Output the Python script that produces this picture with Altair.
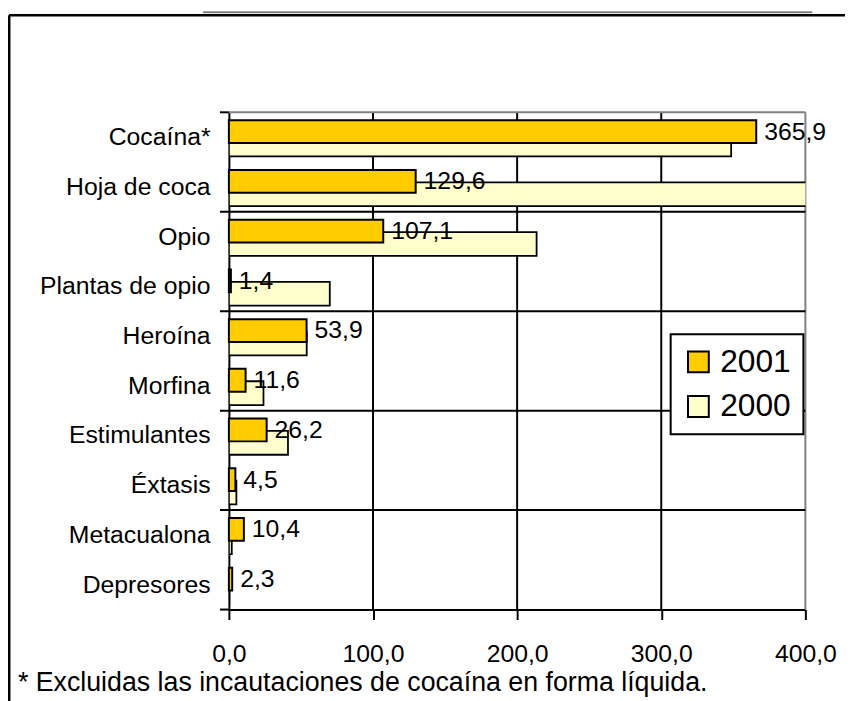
import altair as alt
import pandas as pd

categories = ["Cocaína*", "Hoja de coca", "Opio", "Plantas de opio", "Heroína",
              "Morfina", "Estimulantes", "Éxtasis", "Metacualona", "Depresores"]
v2001 = [365.9, 129.6, 107.1, 1.4, 53.9, 11.6, 26.2, 4.5, 10.4, 2.3]
v2000 = [348.5, 480.0, 213.5, 70.0, 54.0, 24.0, 41.0, 5.2, 2.0, 0.3]
years = ["2001", "2000"]
colors = ["#FFCC00", "#FFFFCC"]
x_ticks = [0, 100, 200, 300, 400]
footnote = ["* Excluidas las incautaciones de cocaína en forma líquida."]

FONT = "Liberation Sans"
FS = 25
W, H = 582, 502

df = pd.DataFrame(
    [{"cat": c, "year": "2001", "value": v} for c, v in zip(categories, v2001)]
    + [{"cat": c, "year": "2000", "value": v} for c, v in zip(categories, v2000)]
)

xscale = alt.Scale(domain=[0, 400], nice=False, zero=True)
yscale = alt.Scale(domain=categories, paddingInner=0, paddingOuter=0)
cscale = alt.Scale(domain=years, range=colors)

x_axis = alt.Axis(
    values=x_ticks, title=None, grid=False,
    labelExpr="replace(format(datum.value, '.1f'), '.', ',')",
    labelFontSize=FS, labelFont=FONT, labelColor="black", labelPadding=22,
    labelFlush=False, labelOverlap=False,
    tickColor="black", tickWidth=2, tickSize=10,
    domainColor="black", domainWidth=2,
)
y_axis = alt.Axis(
    title=None, grid=False, ticks=False, tickSize=0,
    labelFontSize=FS, labelFont=FONT, labelColor="black", labelPadding=19,
    domainColor="black", domainWidth=2,
)

# vertical gridlines (100-300 black, 400 gray border)
grid_black = alt.Chart(pd.DataFrame({"value": x_ticks[1:4]})).mark_rule(
    color="black", strokeWidth=2
).encode(x=alt.X("value:Q", scale=xscale, axis=x_axis))

grid_gray = alt.Chart(pd.DataFrame({"value": x_ticks[4:]})).mark_rule(
    color="#808080", strokeWidth=2
).encode(x=alt.X("value:Q", scale=xscale))

# horizontal gridlines every two categories
hgrid = alt.Chart(pd.DataFrame({"cat": categories[2::2]})).mark_rule(
    color="black", strokeWidth=2
).encode(
    y=alt.Y("cat:N", scale=yscale, bandPosition=0, axis=y_axis),
    x=alt.value(-9), x2=alt.value(W),
)

# top gray border
top_border = alt.Chart(pd.DataFrame({"cat": categories[:1]})).mark_rule(
    color="#808080", strokeWidth=2
).encode(
    y=alt.Y("cat:N", scale=yscale, bandPosition=0),
    x=alt.value(0), x2=alt.value(W),
)

# tick stubs on the y axis
stub_top = alt.Chart(pd.DataFrame({"cat": categories[:1]})).mark_rule(
    color="black", strokeWidth=2
).encode(
    y=alt.Y("cat:N", scale=yscale, bandPosition=0),
    x=alt.value(-9), x2=alt.value(0),
)
stub_bottom = alt.Chart(pd.DataFrame({"cat": categories[-1:]})).mark_rule(
    color="black", strokeWidth=2
).encode(
    y=alt.Y("cat:N", scale=yscale, bandPosition=1),
    x=alt.value(-9), x2=alt.value(0),
)

legend = alt.Legend(
    title=None, orient="none", legendX=446, legendY=224,
    symbolType="square", symbolSize=440,
    labelFontSize=32, labelFont=FONT, labelColor="black", labelOffset=6,
    strokeColor="black", fillColor="white", padding=12,
    symbolStrokeColor="black", symbolStrokeWidth=2, symbolOpacity=1,
    rowPadding=13,
)

base = alt.Chart(df)

bars2000 = base.transform_filter("datum.year == '2000'").mark_bar(
    height=24, yOffset=7.4, stroke="black", strokeWidth=1.8, clip=True
).encode(
    x=alt.X("value:Q", scale=xscale),
    y=alt.Y("cat:N", scale=yscale),
    color=alt.Color("year:N", scale=cscale, legend=legend),
)

bars2001 = base.transform_filter("datum.year == '2001'").mark_bar(
    height=23, yOffset=-5.6, stroke="black", strokeWidth=2
).encode(
    x=alt.X("value:Q", scale=xscale),
    y=alt.Y("cat:N", scale=yscale),
    color=alt.Color("year:N", scale=cscale, legend=legend),
)

labels = base.transform_filter("datum.year == '2001'").transform_calculate(
    label="replace(format(datum.value, '.1f'), '.', ',')"
).mark_text(
    align="left", baseline="middle", dx=8, yOffset=-5.6,
    fontSize=FS, font=FONT, color="black"
).encode(
    x=alt.X("value:Q", scale=xscale),
    y=alt.Y("cat:N", scale=yscale),
    text="label:N",
)

# footnote
note = alt.Chart(pd.DataFrame({"t": footnote})).mark_text(
    align="left", baseline="alphabetic", fontSize=27, font=FONT, color="black"
).encode(x=alt.value(-213), y=alt.value(584), text="t:N")

# outer frame of the original figure
frame_left = alt.Chart(pd.DataFrame({"k": [0]})).mark_rule(
    color="black", strokeWidth=3
).encode(x=alt.value(-222), y=alt.value(-98), y2=alt.value(H + 100))
frame_top = alt.Chart(pd.DataFrame({"k": [0]})).mark_rule(
    color="black", strokeWidth=2.5
).encode(x=alt.value(-222), x2=alt.value(W + 60), y=alt.value(-98))
frame_gray = alt.Chart(pd.DataFrame({"k": [0]})).mark_rule(
    color="#808080", strokeWidth=2
).encode(x=alt.value(-26), x2=alt.value(589), y=alt.value(-101))

chart = alt.layer(
    grid_black, grid_gray, hgrid, top_border, stub_top, stub_bottom,
    bars2000, bars2001, labels, note, frame_left, frame_top, frame_gray,
).properties(
    width=W, height=H,
    autosize="none",
    padding={"left": 223, "top": 102, "right": 40, "bottom": 89},
).configure(
    font=FONT, background="white"
).configure_view(
    stroke=None
).configure_legend(
    strokeWidth=2,
)

chart.save("out.html", embed_options={"renderer": "svg", "actions": False})
